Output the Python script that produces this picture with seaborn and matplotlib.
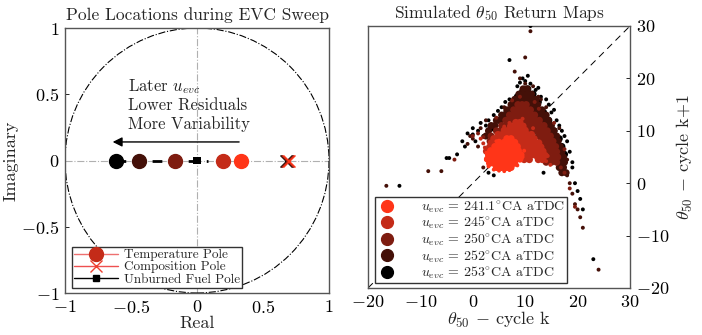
import numpy as np
import pandas as pd
import matplotlib
matplotlib.use("Agg")
import matplotlib.pyplot as plt
from matplotlib.lines import Line2D
from matplotlib.patches import Circle
import seaborn as sns

sns.set_style("white")
plt.rcParams['font.family'] = ['cmr10', 'DejaVu Serif']
plt.rcParams['mathtext.fontset'] = 'cm'
plt.rcParams['axes.formatter.use_mathtext'] = True
plt.rcParams['axes.unicode_minus'] = True

# ---------------- data ----------------
evc_labels = ["241.1", "245", "250", "252", "253"]
evc_colors = ["#FF3518", "#C42B18", "#7E1C10", "#441008", "#000000"]

temp_poles = [0.33, 0.20, -0.17, -0.44, -0.61]
comp_poles = [0.70, 0.69, 0.685, 0.68, 0.675]
fuel_pole = [0.0]
fuel_span = [-0.61, 0.08]

# return-map points, dense core given row by row (y: [x, ...]) and sparse outliers
core_241 = {3.0: [4.5, 5.5, 6.5, 7.3],
            3.8: [3.2, 4.0, 5.0, 6.0, 7.0, 8.0],
            4.6: [2.8, 3.7, 4.6, 5.5, 6.4, 7.3, 8.2, 9.0],
            5.4: [3.0, 3.9, 4.8, 5.7, 6.6, 7.5, 8.4, 9.2],
            6.2: [3.4, 4.3, 5.2, 6.1, 7.0, 7.9, 8.7],
            7.0: [4.2, 5.1, 6.0, 6.9, 7.8, 8.5],
            7.8: [5.0, 6.0, 7.0, 8.0],
            8.5: [6.5, 7.3]}
sparse_241 = [(2.5, 4.5), (9.5, 5), (3, 3.2), (7, 2.5), (5, 2.4), (2.6, 5.8), (8.5, 3.4),
              (4, 2.6), (6, 2.3), (9.8, 6.2), (4.5, 8)]

core_245 = {4.5: [9.8, 10.8, 12.5, 13.3],
            5.3: [10.0, 11.0, 12.0, 13.0, 13.8],
            6.1: [2.6, 9.5, 10.5, 11.5, 12.5, 13.4],
            6.9: [3.2, 9.2, 10.2, 11.2, 12.2, 13.0],
            7.7: [3.5, 4.3, 8.8, 9.8, 10.8, 11.8, 12.6],
            8.5: [4.0, 4.8, 5.6, 6.5, 7.3, 8.1, 9.0, 9.9, 10.8, 11.7],
            9.3: [4.8, 5.6, 6.4, 7.2, 8.0, 8.8, 9.6, 10.4, 11.2],
            10.1: [6.0, 6.8, 7.6, 8.4, 9.2, 10.0],
            10.9: [7.2, 8.0, 8.8, 9.6],
            11.6: [8.2, 9.0]}
sparse_245 = [(2.3, 6.8), (14, 4.2), (14.3, 5.2), (9.5, 12.3), (7, 11.5), (2, 7.6), (1.5, 8.5),
              (11.5, 10.5), (6, 10.8), (14.8, 3.5)]

core_250 = {4.0: [14.0, 15.0, 16.0],
            5.0: [13.8, 14.6, 15.4, 16.2],
            6.0: [13.8, 14.6, 15.4, 16.0],
            7.0: [13.5, 14.3, 15.1, 15.8],
            8.0: [3.3, 13.0, 13.8, 14.6, 15.3],
            9.0: [3.5, 12.5, 13.3, 14.1, 14.8],
            10.0: [4.5, 5.3, 11.0, 11.8, 12.6, 13.4, 14.2],
            11.0: [5.5, 6.3, 10.5, 11.3, 12.1, 12.9, 13.6],
            12.0: [6.3, 7.1, 7.9, 8.7, 9.5, 10.3, 11.1, 11.9, 12.7],
            13.0: [7.0, 7.8, 8.6, 9.4, 10.2, 11.0, 11.8],
            14.0: [7.8, 8.6, 9.4, 10.2, 11.0],
            15.0: [8.6, 9.4, 10.2]}
sparse_250 = [(2, 8.8), (1, 9.5), (16.8, 3), (17.5, 2), (11.8, 15.5), (7.5, 15.8),
              (12.6, 14.2), (0, 9), (-3.5, 4.5), (18.5, -1), (19.5, -4.5), (9, 16.5),
              (15.5, 11.5), (4.5, 12.5), (17.5, 6.5)]

core_252 = {2.0: [17.0, 17.8],
            3.0: [16.5, 17.3],
            4.0: [16.8, 17.5],
            5.0: [16.6, 17.3],
            6.0: [16.3, 17.0],
            7.0: [16.0, 16.7],
            8.0: [15.5, 16.3],
            9.0: [2.5, 15.2, 16.0],
            10.0: [3.0, 14.8, 15.5],
            11.0: [3.5, 4.2, 14.3, 15.0],
            12.0: [4.5, 5.3, 13.7, 14.4],
            13.0: [5.5, 6.3, 12.7, 13.4, 14.0],
            14.0: [6.5, 7.2, 11.8, 12.5, 13.2],
            15.0: [7.3, 8.0, 11.0, 11.7, 12.4],
            16.0: [8.0, 8.8, 9.6, 10.4, 11.2, 12.0],
            17.0: [8.8, 9.6, 10.4, 11.2],
            18.0: [9.6, 10.4]}
sparse_252 = [(-16.5, -0.5), (-8.5, 2.3), (-6, 2.3), (-1, 7.5), (0, 8.5), (1, 7), (11, 29),
              (10, 24), (8, 21.3), (9, 20), (18.5, 0), (19, -2), (19.5, -4), (20, -5),
              (21, -8.5), (24, -16.5), (17.5, 3), (18, 1.5), (1.5, 10.5), (12.5, 16.5),
              (14, 14.5), (2, 3), (-0.5, 9), (20.5, -6.5), (13, 16), (6, 14.5),
              (10, 19), (11.5, 18.5), (2.5, 12), (16.5, 10.5), (18, 4.5)]

core_253 = [(3.5, 10.5), (5, 12), (6.5, 13.5), (7.5, 15), (8.5, 16.5), (9.5, 17.5),
            (10.5, 18), (11.5, 17), (12.5, 15.5), (13.5, 13.5), (14.5, 12), (15.5, 10),
            (16.5, 8.5), (17, 7), (17.5, 5.5)]
sparse_253 = [(-14, -0.5), (-5, 4.8), (-4.5, 4.8), (-2, 8), (-1.5, 7), (-1, 9.5), (0, 9.3),
              (0.5, 8), (1, 10), (2, 9), (2.5, 11), (3, 12), (4, 13), (11, 30), (7, 23.5),
              (9.5, 20), (10, 19.5), (11, 19), (8.5, 18.5), (12, 17.8), (13, 16.5),
              (14.5, 15), (15, 13.5), (16, 12), (17, 10), (18, 8), (18.5, 6), (19, 4),
              (18, 2), (19.5, 0), (20, -1.5), (20.5, -3), (21, -5), (23, -14.5),
              (13.5, 2), (3, 2), (7, 3), (4, 1.5), (5.5, 14.5), (7, 16), (15.5, 14),
              (16.5, 11), (17.5, 9), (19, 3), (-3, 5.5), (1.5, 11.5), (10.5, 20.5),
              (9, 19.2), (12.5, 18.2), (6.2, 15.5), (4.8, 13.8), (0, 10.5), (14, 16)]

cores = [core_241, core_245, core_250, core_252, core_253]
sparses = [sparse_241, sparse_245, sparse_250, sparse_252, sparse_253]


def core_frame(core):
    if isinstance(core, dict):
        pts = [(x, y) for y, xs in core.items() for x in xs]
    else:
        pts = list(core)
    return pd.DataFrame(pts, columns=["x", "y"])


# ---------------- figure ----------------
W, H = 702, 335
fig = plt.figure(figsize=(W / 100, H / 100), dpi=100)
ax1 = fig.add_axes([65 / W, (H - 293) / H, 264 / W, 265 / H])
ax2 = fig.add_axes([368 / W, (H - 288) / H, 262 / W, 262 / H])

spine_col = "#555555"

# ---- left: pole locations ----
ax1.axhline(0, color="#b0b0b0", lw=0.8, ls="-.", zorder=1)
ax1.axvline(0, color="#b0b0b0", lw=0.8, ls="-.", zorder=1)
ax1.add_patch(Circle((0, 0), 1.0, fill=False, ec="black", lw=0.8, ls="-.", zorder=1))

sns.lineplot(x=fuel_span, y=[0, 0], ax=ax1, color="black", lw=2.0,
             linestyle=(0, (3.5, 3)), zorder=2, legend=False)
sns.scatterplot(x=fuel_pole, y=[0] * len(fuel_pole), ax=ax1, color="black",
                marker="s", s=30, edgecolor="none", zorder=3, legend=False)
for xp, c in zip(comp_poles[::-1], evc_colors[::-1]):
    ax1.plot([xp], [0], marker="x", ms=8, mew=1.0, color=c, ls="none", zorder=3)
for xp, c in zip(temp_poles, evc_colors):
    ax1.plot([xp], [0], marker="o", ms=10, color=c, mec=c, ls="none", zorder=4)

ax1.annotate("", xy=(-0.66, 0.14), xytext=(0.34, 0.14),
             arrowprops=dict(arrowstyle="-|>", color="black", lw=1.0,
                             mutation_scale=14))
ax1.text(-0.52, 0.555, r"Later $u_{evc}$", fontsize=12, va="center")
ax1.text(-0.52, 0.415, "Lower Residuals", fontsize=12, va="center")
ax1.text(-0.52, 0.275, "More Variability", fontsize=12, va="center")

ax1.set_xlim(-1, 1)
ax1.set_ylim(-1, 1)
ax1.set_xticks([-1, -0.5, 0, 0.5, 1])
ax1.set_yticks([-1, -0.5, 0, 0.5, 1])
ax1.set_xticklabels(["$-1$", "$-0.5$", "$0$", "$0.5$", "$1$"])
ax1.set_yticklabels(["$-1$", "$-0.5$", "$0$", "$0.5$", "$1$"])
ax1.set_xlabel("Real", fontsize=13, labelpad=0)
ax1.set_ylabel("Imaginary", fontsize=13, labelpad=2)
ax1.set_title("Pole Locations during EVC Sweep", fontsize=12.5, pad=6)

h1 = [Line2D([], [], color="#EE7070", lw=1.0, marker="o", ms=10, mfc="#C42B18", mec="#C42B18"),
      Line2D([], [], color="#EE5050", lw=1.0, marker="x", ms=8, mew=1.0, mec="#EE4030"),
      Line2D([], [], color="black", lw=1.0, marker="s", ms=4.5)]
leg1 = ax1.legend(h1, ["Temperature Pole", "Composition Pole", "Unburned Fuel Pole"],
                  loc="lower left", bbox_to_anchor=(0.025, 0.02), fontsize=9.5,
                  handlelength=3.4, borderpad=0.15, labelspacing=0.0,
                  handletextpad=0.4, fancybox=False, framealpha=1, borderaxespad=0)
leg1.get_frame().set_edgecolor("#333333")
leg1.get_frame().set_linewidth(1.0)

# ---- right: return maps ----
ax2.plot([-20, 30], [-20, 30], color="black", lw=0.7, ls=(0, (7, 5)), zorder=1)
for i in range(len(evc_labels) - 1, -1, -1):
    cdf = core_frame(cores[i])
    sdf = pd.DataFrame(sparses[i], columns=["x", "y"])
    sns.scatterplot(data=cdf, x="x", y="y", ax=ax2, color=evc_colors[i], s=26,
                    edgecolor="none", zorder=2 + (5 - i), legend=False)
    sns.scatterplot(data=sdf, x="x", y="y", ax=ax2, color=evc_colors[i], s=8,
                    edgecolor="none", zorder=2 + (5 - i), legend=False)

ax2.set_xlim(-20, 30)
ax2.set_ylim(-20, 30)
ax2.set_xticks([-20, -10, 0, 10, 20, 30])
ax2.set_yticks([-20, -10, 0, 10, 20, 30])
ax2.set_xticklabels(["$-20$", "$-10$", "$0$", "$10$", "$20$", "$30$"])
ax2.set_yticklabels(["$-20$", "$-10$", "$0$", "$10$", "$20$", "$30$"])
ax2.yaxis.tick_right()
ax2.yaxis.set_label_position("right")
ax2.set_xlabel(r"$\theta_{50}$ $-$ cycle k", fontsize=13, labelpad=0)
ax2.set_ylabel(r"$\theta_{50}$ $-$ cycle k+1", fontsize=13, labelpad=4, rotation=90)
ax2.set_title(r"Simulated $\theta_{50}$ Return Maps", fontsize=12.5, pad=6)

h2 = [Line2D([], [], ls="none", marker="o", ms=8.5, color=c, mec=c) for c in evc_colors]
l2 = [r"$u_{evc}$ = " + v + r"$^{\circ}$CA aTDC" for v in evc_labels]
leg2 = ax2.legend(h2, l2, loc="lower left", bbox_to_anchor=(0.025, 0.02), fontsize=10,
                  borderpad=0.12, labelspacing=0.0, handletextpad=1.6, handlelength=1.6,
                  fancybox=False, framealpha=1, borderaxespad=0)
leg2.get_frame().set_edgecolor("#333333")
leg2.get_frame().set_linewidth(1.0)

for ax in (ax1, ax2):
    for sp in ax.spines.values():
        sp.set_color(spine_col)
        sp.set_linewidth(1.0)
    ax.tick_params(direction="in", length=3, width=0.6, labelsize=13, pad=4,
                   colors="black")
    ax.tick_params(axis="y", right=(ax is ax2), left=(ax is ax1))

fig.savefig("out.png", dpi=100)
